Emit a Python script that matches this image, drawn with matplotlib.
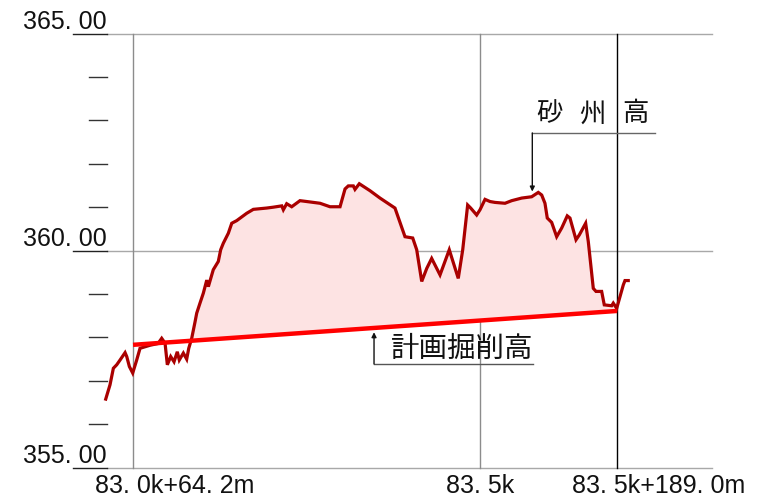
import numpy as np
import matplotlib
matplotlib.use("Agg")
import matplotlib.pyplot as plt
from matplotlib import font_manager as fm
from matplotlib import transforms as mtrans

# ---------------- data ----------------
# distance (m) from 83.0k+64.2m, ground elevation (m)
ground_x = [-34.3, -28.9, -24.7, -20.5, -16.3, -10.0, -7.9, -4.6, -0.4, 4.6, 8.8,
            21.4, 31.4, 36.0, 40.2, 43.1, 47.3, 51.5, 55.6, 58.1, 63.2, 67.4, 70.0,
            73.7, 77.9, 80.0, 84.1, 88.3, 92.6, 94.6, 100.8, 107.1, 110.1, 113.4,
            119.7, 124.0, 130.2, 142.8, 151.1, 167.9, 176.2, 186.8, 188.8, 193.0,
            199.3, 209.7, 218.2, 234.9, 247.4, 260.0, 266.3, 270.4, 276.7, 278.8,
            284.2, 297.6, 310.2, 329.0, 341.6, 351.3, 356.3, 362.6, 368.9, 375.1,
            385.6, 397.2, 408.5, 414.1, 420.3, 424.1, 431.6, 435.8, 442.1, 448.4,
            454.6, 467.2, 475.6, 488.2, 500.7, 509.0, 513.3, 517.4, 520.3, 525.8,
            532.1, 538.4, 545.4, 548.8, 556.4, 560.5, 568.5, 571.8, 578.1, 581.5,
            588.6, 591.9, 601.2, 603.2, 607.5, 615.8, 617.9, 622.0]
ground_z = [356.58, 356.91, 357.29, 357.37, 357.48, 357.65, 357.56, 357.33, 357.18,
            357.48, 357.75, 357.82, 357.86, 357.98, 357.87, 357.37, 357.56, 357.44,
            357.67, 357.48, 357.64, 357.50, 357.75, 357.98, 358.36, 358.56, 358.79,
            359.02, 359.32, 359.17, 359.56, 359.75, 360.02, 360.17, 360.40, 360.63,
            360.69, 360.86, 360.95, 360.98, 361.00, 361.03, 360.94, 361.08, 361.01,
            361.15, 361.13, 361.09, 361.01, 361.01, 361.42, 361.49, 361.49, 361.41,
            361.54, 361.38, 361.21, 360.98, 360.32, 360.29, 360.02, 359.29, 359.59,
            359.82, 359.44, 360.02, 359.36, 360.02, 361.05, 360.98, 360.82, 360.94,
            361.18, 361.13, 361.11, 361.09, 361.15, 361.21, 361.24, 361.34, 361.28,
            361.09, 360.75, 360.65, 360.32, 360.52, 360.80, 360.75, 360.25, 360.36,
            360.63, 360.21, 359.13, 359.06, 359.06, 358.75, 358.73, 358.79, 358.67,
            359.21, 359.31, 359.31]

design_x = [0.0, 607.9]
design_z = [357.83, 358.61]

station_ticks = [0.0, 435.8, 607.9]
station_labels = ["83. 0k+64. 2m", "83. 5k", "83. 5k+189. 0m"]
station_colors = ["#8c8c8c", "#8c8c8c", "#000000"]

elev_major = [355, 360, 365]
elev_labels = ["355. 00", "360. 00", "365. 00"]
elev_minor = [356, 357, 358, 359, 361, 362, 363, 364]

label_sandbar = ["砂", "州", "高"]
label_design = "計画掘削高"

# ---------------- fonts ----------------
def has_font(name):
    try:
        fm.findfont(fm.FontProperties(family=name), fallback_to_default=False)
        return True
    except Exception:
        return False

num_font = "Liberation Sans Narrow" if has_font("Liberation Sans Narrow") else "Liberation Sans"
num_size = 21 if num_font == "Liberation Sans Narrow" else 18
cjk_font = ["Noto Sans CJK JP", "DejaVu Sans"]

# ---------------- figure ----------------
W, H = 762, 499
fig = plt.figure(figsize=(W / 100, H / 100), dpi=100)
ax = fig.add_axes([73 / W, 1 - 467.7 / H, (712 - 73) / W, (467.7 - 33.5) / H])
xmin, xmax = -75.4, 727.2
ax.set_xlim(xmin, xmax)
ax.set_ylim(355, 365)
ax.axis("off")

x_tickstart = -55.3   # short tick marks left edge
x_gridstart = -32.7   # grid left edge

# horizontal grid and underline of labels
for v in elev_major:
    ax.plot([xmin, x_gridstart], [v, v], color="#222222", lw=1.0, clip_on=False, zorder=2)
    ax.plot([x_gridstart, xmax], [v, v], color="#a8a8a8", lw=1.0, clip_on=False, zorder=1)
for v in elev_minor:
    ax.plot([x_tickstart, x_gridstart], [v, v], color="#333333", lw=1.0, zorder=2)

# vertical station lines
for sx, c in zip(station_ticks, station_colors):
    ax.plot([sx, sx], [355, 365], color=c, lw=1.0, zorder=1, clip_on=False)

# fill between ground and design
gx = np.array(ground_x)
gz = np.array(ground_z)
dz = np.interp(gx, design_x, design_z)
mask = (gx >= design_x[0]) & (gx <= design_x[-1])
ax.fill_between(gx, gz, dz, where=mask & (gz >= dz), interpolate=True,
                color="#fde3e3", lw=0, zorder=2)

ax.plot(gx, gz, color="#aa0000", lw=2.3, zorder=3, solid_joinstyle="miter")
ax.plot(design_x, design_z, color="#ff0000", lw=3.2, zorder=4, solid_capstyle="butt")

# y labels
yt = mtrans.blended_transform_factory(fig.transFigure, ax.transData)
yt = mtrans.offset_copy(yt, fig=fig, x=0, y=4.5, units="dots")
for v, lab in zip(elev_major, elev_labels):
    ax.text(107 / W, v, lab, transform=yt, ha="right", va="baseline",
            fontsize=num_size, family=num_font, color="#111111")

# x labels
xoffs = [(-38, "left"), (0, "center"), (-45, "left")]
for sx, lab, (dx, ha) in zip(station_ticks, station_labels, xoffs):
    tr = mtrans.offset_copy(ax.get_xaxis_transform(), fig=fig, x=dx, y=-25, units="dots")
    ax.text(sx, 0, lab, transform=tr, ha=ha, va="baseline",
            fontsize=num_size, family=num_font, color="#111111")

# annotation: sandbar height
ax.plot([501.5, 655.6], [362.71, 362.71], color="#666666", lw=1.0, zorder=5)
ax.annotate("", xy=(501.5, 361.36), xytext=(501.5, 362.71),
            arrowprops=dict(arrowstyle="-|>", color="#111111", lw=1.0,
                            mutation_scale=7, shrinkA=0, shrinkB=0), zorder=5)
for cx, ch in zip([523.1, 577.1, 630.5], label_sandbar):
    ax.text(cx, 363.15, ch, ha="center", va="center", fontsize=19,
            family=cjk_font, color="#111111", zorder=5)

# annotation: planned excavation height
ax.plot([302.7, 502.4], [357.39, 357.39], color="#555555", lw=1.0, zorder=5)
ax.annotate("", xy=(302.7, 358.12), xytext=(302.7, 357.39),
            arrowprops=dict(arrowstyle="-|>", color="#111111", lw=1.0,
                            mutation_scale=7, shrinkA=0, shrinkB=0), zorder=5)
ax.text(413.2, 357.74, label_design, ha="center", va="center", fontsize=20.5,
        family=cjk_font, color="#111111", zorder=5)

fig.savefig("out.png", dpi=100)
